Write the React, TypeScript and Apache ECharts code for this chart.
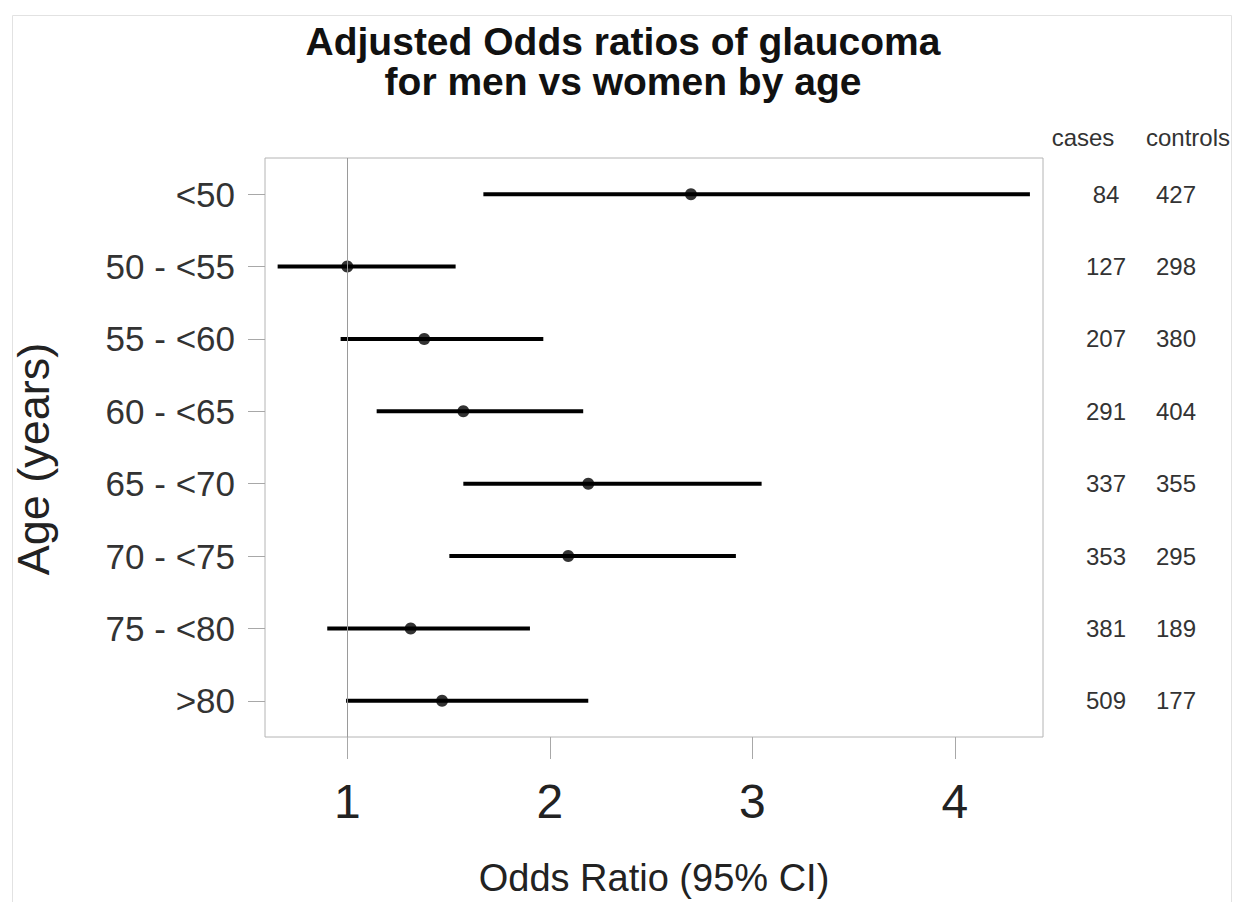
import React, { useEffect, useRef } from 'react';
import * as echarts from 'echarts';

const categories = ['<50', '50 - <55', '55 - <60', '60 - <65', '65 - <70', '70 - <75', '75 - <80', '>80'];
const orEstimate = [2.697, 1.0, 1.38, 1.573, 2.19, 2.091, 1.313, 1.468];
const ciLow = [1.672, 0.656, 0.967, 1.145, 1.573, 1.504, 0.901, 0.994];
const ciHigh = [4.371, 1.535, 1.968, 2.165, 3.046, 2.919, 1.902, 2.19];
const cases = [84, 127, 207, 291, 337, 353, 381, 509];
const controls = [427, 298, 380, 404, 355, 295, 189, 177];
const xTicks = [1, 2, 3, 4];

const FONT = "'Liberation Sans', Arial, Helvetica, sans-serif";

export default function App() {
  const ref = useRef<HTMLDivElement>(null);

  useEffect(() => {
    const chart = echarts.init(ref.current as HTMLDivElement, null, { renderer: 'svg' });
    const ciData = categories.map((_, i) => [i, ciLow[i], ciHigh[i]]);
    const pointData = categories.map((_, i) => [orEstimate[i], i]);
    const countData = categories.map((_, i) => [i, cases[i], controls[i]]);

    chart.setOption({
      animation: false,
      backgroundColor: '#ffffff',
      title: {
        text: 'Adjusted Odds ratios of glaucoma\nfor men vs women by age',
        left: 623,
        top: 21,
        padding: 0,
        textAlign: 'center',
        textStyle: {
          fontFamily: FONT,
          fontWeight: 'bold',
          fontSize: 39,
          lineHeight: 40,
          color: '#111',
        },
      },
      grid: {
        left: 265,
        top: 158,
        width: 778,
        height: 583,
        show: true,
        borderColor: '#b4b4b4',
        borderWidth: 1,
        backgroundColor: 'transparent',
        containLabel: false,
      },
      xAxis: {
        type: 'value',
        min: 0.5936,
        max: 4.4356,
        name: 'Odds Ratio (95% CI)',
        nameLocation: 'middle',
        nameGap: 122,
        nameTextStyle: { fontFamily: FONT, fontSize: 38, color: '#222' },
        axisLine: { show: false },
        splitLine: { show: false },
        axisTick: {
          show: true,
          length: 22,
          customValues: xTicks,
          lineStyle: { color: '#a8a8a8', width: 1 },
        },
        axisLabel: {
          customValues: xTicks,
          margin: 40,
          fontFamily: FONT,
          fontSize: 48,
          color: '#222',
        },
      },
      yAxis: {
        type: 'category',
        data: categories,
        inverse: true,
        axisLine: { show: false },
        splitLine: { show: false },
        axisTick: {
          show: true,
          alignWithLabel: true,
          length: 17,
          lineStyle: { color: '#a8a8a8', width: 1 },
        },
        axisLabel: {
          margin: 30,
          fontFamily: FONT,
          fontSize: 35,
          color: '#333',
        },
      },
      graphic: [
        {
          type: 'rect',
          shape: { x: 12.5, y: 15.5, width: 1219, height: 900 },
          style: { fill: 'none', stroke: '#e2e2e2', lineWidth: 1 },
          silent: true,
        },
        {
          type: 'text',
          x: 33,
          y: 459,
          rotation: Math.PI / 2,
          style: {
            text: 'Age (years)',
            fontFamily: FONT,
            fontSize: 45,
            fill: '#222',
            align: 'center',
            verticalAlign: 'middle',
          },
        },
        {
          type: 'text',
          x: 1083,
          y: 137,
          style: {
            text: 'cases',
            fontFamily: FONT,
            fontSize: 24,
            fill: '#333',
            align: 'center',
            verticalAlign: 'middle',
          },
        },
        {
          type: 'text',
          x: 1188,
          y: 137,
          style: {
            text: 'controls',
            fontFamily: FONT,
            fontSize: 24,
            fill: '#333',
            align: 'center',
            verticalAlign: 'middle',
          },
        },
      ],
      series: [
        {
          type: 'custom',
          name: 'CI',
          coordinateSystem: 'cartesian2d',
          encode: { x: [1, 2], y: 0 },
          data: ciData,
          z: 2,
          renderItem: (_params: any, api: any) => {
            const idx = api.value(0);
            const p0 = api.coord([api.value(1), idx]);
            const p1 = api.coord([api.value(2), idx]);
            return {
              type: 'line',
              shape: { x1: p0[0], y1: p0[1], x2: p1[0], y2: p1[1] },
              style: { stroke: '#000', lineWidth: 4, lineCap: 'butt' },
            };
          },
        },
        {
          type: 'scatter',
          name: 'Odds ratio',
          data: pointData,
          symbol: 'circle',
          symbolSize: 12,
          itemStyle: { color: '#000' },
          z: 3,
          markLine: {
            silent: true,
            symbol: 'none',
            label: { show: false },
            lineStyle: { color: '#9a9a9a', width: 1, type: 'solid' },
            data: [{ xAxis: 1 }],
          },
        },
        {
          type: 'custom',
          name: 'Counts',
          coordinateSystem: 'cartesian2d',
          encode: { y: 0 },
          data: countData,
          clip: false,
          renderItem: (_params: any, api: any) => {
            const y = api.coord([1, api.value(0)])[1];
            return {
              type: 'group',
              children: [
                {
                  type: 'text',
                  x: 1106,
                  y,
                  style: {
                    text: String(api.value(1)),
                    fontFamily: FONT,
                    fontSize: 24,
                    fill: '#333',
                    align: 'center',
                    verticalAlign: 'middle',
                  },
                },
                {
                  type: 'text',
                  x: 1176,
                  y,
                  style: {
                    text: String(api.value(2)),
                    fontFamily: FONT,
                    fontSize: 24,
                    fill: '#333',
                    align: 'center',
                    verticalAlign: 'middle',
                  },
                },
              ],
            };
          },
        },
      ],
    });

    return () => chart.dispose();
  }, []);

  return (
    <div
      ref={ref}
      style={{ position: 'absolute', left: 0, top: 0, width: 1234, height: 902, background: '#fff' }}
    />
  );
}
